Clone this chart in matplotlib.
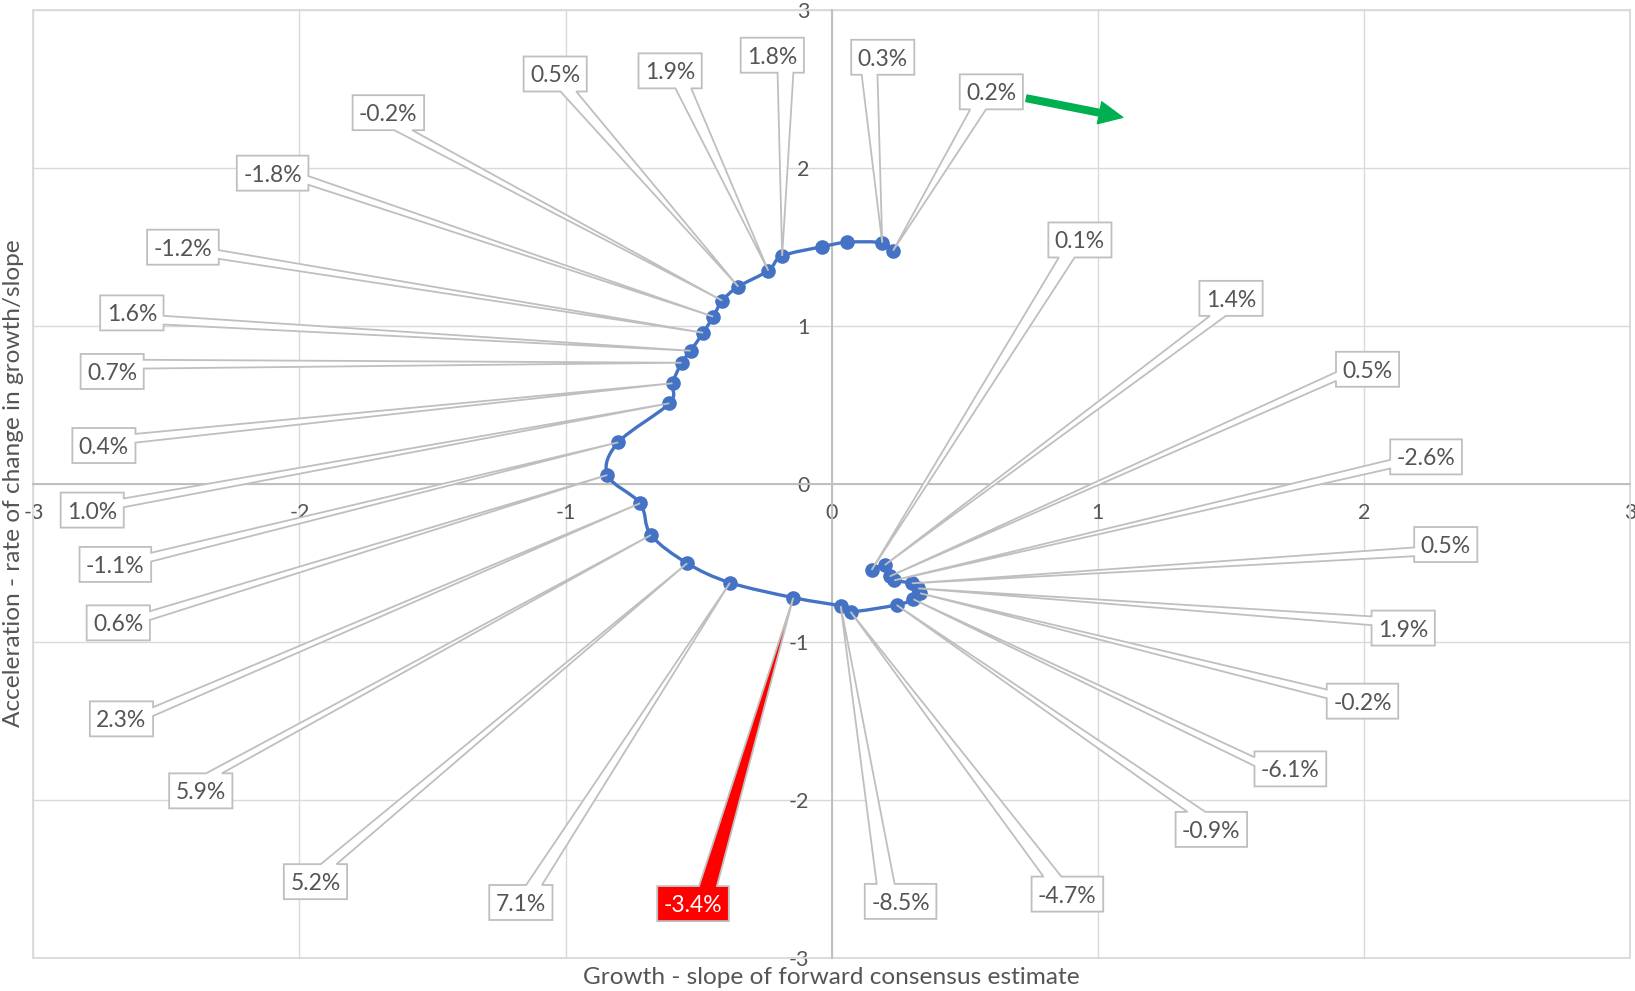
import numpy as np
import matplotlib
matplotlib.use("Agg")
import matplotlib.pyplot as plt
from matplotlib.path import Path
from matplotlib.patches import PathPatch, Polygon, Rectangle, ArrowStyle

plt.rcParams['font.family'] = ['Lato', 'DejaVu Sans']
plt.rcParams['axes.unicode_minus'] = False

# Growth (slope) and acceleration for each observation, in time order
growth = [0.231, 0.190, 0.059, -0.035, -0.186, -0.238, -0.351, -0.411, -0.445,
          -0.483, -0.530, -0.564, -0.598, -0.610, -0.802, -0.843, -0.720, -0.679,
          -0.543, -0.382, -0.144, 0.034, 0.071, 0.244, 0.307, 0.332, 0.325,
          0.301, 0.235, 0.218, 0.200, 0.150]
accel = [1.478, 1.528, 1.531, 1.503, 1.444, 1.351, 1.250, 1.161, 1.060,
         0.958, 0.844, 0.768, 0.638, 0.511, 0.264, 0.057, -0.122, -0.323,
         -0.502, -0.625, -0.720, -0.773, -0.809, -0.766, -0.730, -0.692, -0.661,
         -0.629, -0.610, -0.585, -0.513, -0.545]
labels = ["0.2%", "0.3%", "", "", "1.8%", "1.9%", "0.5%", "-0.2%", "-1.8%",
          "-1.2%", "1.6%", "0.7%", "0.4%", "1.0%", "-1.1%", "0.6%", "2.3%", "5.9%",
          "5.2%", "7.1%", "-3.4%", "-8.5%", "-4.7%", "-0.9%", "-6.1%", "-0.2%", "1.9%",
          "0.5%", "-2.6%", "0.5%", "1.4%", "0.1%"]
highlight_index = 20
ticks = [-3, -2, -1, 0, 1, 2, 3]

# Where each callout box sits (data coordinates); None = no label
label_pos = [(0.600, 2.471), (0.192, 2.690), None, None, (-0.223, 2.703),
             (-0.607, 2.604), (-1.039, 2.584), (-1.666, 2.339), (-2.101, 1.956),
             (-2.438, 1.487), (-2.630, 1.071), (-2.704, 0.700), (-2.735, 0.231),
             (-2.779, -0.178), (-2.692, -0.522), (-2.681, -0.892), (-2.669, -1.500),
             (-2.371, -1.956), (-1.940, -2.531), (-1.168, -2.663), (-0.521, -2.670),
             (0.259, -2.656), (0.886, -2.610), (1.427, -2.200), (1.724, -1.817),
             (1.995, -1.388), (2.148, -0.925), (2.308, -0.396), (2.234, 0.159),
             (2.014, 0.714), (1.501, 1.163), (0.933, 1.533)]

TEXT = '#555555'
GRID = '#D9D9D9'
BLUE = '#4472C4'
EDGE = '#BFBFBF'

fig = plt.figure(figsize=(16.35, 9.91), dpi=100)
ax = fig.add_axes([0.02043, 0.0336, 0.97645, 0.9560])
ax.set_xlim(-3, 3)
ax.set_ylim(-3, 3)
ax.set_xticks(ticks)
ax.set_yticks(ticks)
ax.grid(True, color=GRID, lw=1.0)
ax.set_axisbelow(True)
for s in ['top', 'right']:
    ax.spines[s].set_visible(False)
for s in ['left', 'bottom']:
    ax.spines[s].set_position(('data', 0))
    ax.spines[s].set_color(EDGE)
    ax.spines[s].set_linewidth(1.4)
ax.tick_params(length=0, labelsize=15.5, labelcolor=TEXT)
ax.tick_params(axis='x', pad=14)
ax.tick_params(axis='y', pad=16)
ax.add_patch(Rectangle((0, 0), 1, 1, transform=ax.transAxes, fill=False,
                       ec=GRID, lw=1.3, clip_on=False, zorder=1))

# Smoothed connecting line (Catmull-Rom as cubic Bezier segments)
pts = np.column_stack([growth, accel])
ext = np.vstack([pts[0], pts, pts[-1]])
verts = [pts[0]]
codes = [Path.MOVETO]
for i in range(len(pts) - 1):
    p0, p1, p2, p3 = ext[i], ext[i + 1], ext[i + 2], ext[i + 3]
    verts += [p1 + (p2 - p0) / 6, p2 - (p3 - p1) / 6, p2]
    codes += [Path.CURVE4] * 3
ax.add_patch(PathPatch(Path(verts, codes), fill=False, ec=BLUE, lw=2.4, zorder=3))
ax.plot(growth, accel, ls='none', marker='o', ms=9.5, color=BLUE, zorder=3)

# Direction arrow
ax.annotate('', xy=(1.094, 2.322), xytext=(0.732, 2.443),
            arrowprops=dict(arrowstyle=ArrowStyle.Simple(head_length=17, head_width=16,
                                                         tail_width=4.8),
                            mutation_scale=1, color='#00B050', shrinkA=0, shrinkB=0),
            zorder=6)

fig.text(13.5 / 1635, 0.512, 'Acceleration - rate of change in growth/slope',
         rotation=90, ha='center', va='center', fontsize=17.6, color=TEXT)
fig.text(0.5086, 0.0136, 'Growth - slope of forward consensus estimate',
         ha='center', va='center', fontsize=17.6, color=TEXT)


def callout_vertices(L, B, R, T, tx, ty):
    w, h = R - L, T - B
    hc, vc = (L + R) / 2, (B + T) / 2
    dx, dy = tx - hc, ty - vc
    if abs(dy) - abs(dx * h / w) > 0:
        x1, x2 = (L + 7 * w / 12, L + 10 * w / 12) if dx > 0 else (L + 2 * w / 12, L + 5 * w / 12)
        if dy < 0:
            return [(L, T), (R, T), (R, B), (x2, B), (tx, ty), (x1, B), (L, B)]
        return [(L, T), (x1, T), (tx, ty), (x2, T), (R, T), (R, B), (L, B)]
    y_hi, y_lo = (T - 7 * h / 12, T - 10 * h / 12) if dy < 0 else (T - 2 * h / 12, T - 5 * h / 12)
    if dx < 0:
        return [(L, T), (R, T), (R, B), (L, B), (L, y_lo), (tx, ty), (L, y_hi)]
    return [(L, T), (R, T), (R, y_hi), (tx, ty), (R, y_lo), (R, B), (L, B)]


texts = []
for i, lab in enumerate(labels):
    if not lab or label_pos[i] is None:
        continue
    hot = i == highlight_index
    t = ax.text(*label_pos[i], lab, ha='center', va='center', fontsize=16.5,
                color='white' if hot else TEXT, zorder=5 + 0.01 * i)
    texts.append((i, t, hot))

fig.canvas.draw()
renderer = fig.canvas.get_renderer()
inv = ax.transData.inverted()
for i, t, hot in texts:
    bb = t.get_window_extent(renderer)
    cx, cy = ax.transData.transform(label_pos[i])
    cy += 2
    hw, hh = bb.width / 2 + 6.5, 17.5
    tx, ty = ax.transData.transform((growth[i], accel[i]))
    v = callout_vertices(cx - hw, cy - hh, cx + hw, cy + hh, tx, ty)
    ax.add_patch(Polygon(inv.transform(v), closed=True,
                         fc='#FF0000' if hot else 'white', ec=EDGE, lw=1.3,
                         joinstyle='miter', zorder=4 + 0.01 * i, clip_on=False))

fig.savefig('out.png', dpi=100)
